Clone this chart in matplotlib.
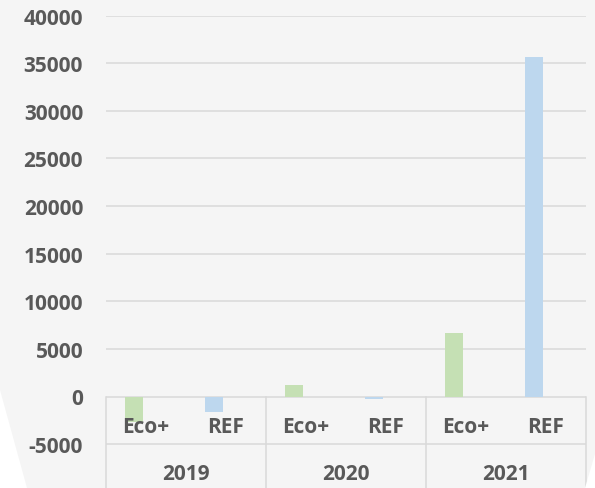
import matplotlib.pyplot as plt
from matplotlib.patches import Polygon

# --- Data ---
years = ["2019", "2020", "2021"]
scenarios = ["Eco+", "REF"]
values = [-2650, -1600, 1240, -220, 6670, 35660]
bar_colors = {"Eco+": "#c5e0b4", "REF": "#bdd7ee"}
y_ticks = [-5000, 0, 5000, 10000, 15000, 20000, 25000, 30000, 35000, 40000]

text_color = "#595959"
line_color = "#d9d9d9"
font = "Open Sans"
fsize = 15

fig = plt.figure(figsize=(5.95, 4.89), dpi=100)
fig.patch.set_facecolor("#f5f5f5")

# white wedges in the bottom corners of the background
fig.patches.append(Polygon([(0, 0), (0, 98 / 489), (27 / 595, 0)], closed=True,
                           transform=fig.transFigure, facecolor="white",
                           edgecolor="none", zorder=0))
fig.patches.append(Polygon([(1, 0), (1, 34 / 489), (585 / 595, 0)], closed=True,
                           transform=fig.transFigure, facecolor="white",
                           edgecolor="none", zorder=0))

# axes: top at 40000 (y=16.7px), bottom at figure edge
ax = fig.add_axes([106 / 595, 0, 480 / 595, (489 - 16.7) / 489])
ax.set_facecolor("none")

ymax = 40000
px_per_unit = 47.6 / 5000
ymin = -(489 - 397.5) / px_per_unit
ax.set_ylim(ymin, ymax)

labels = [s for _ in years for s in scenarios]
ax.set_xlim(-0.5, len(labels) - 0.5)

for i, (lab, val) in enumerate(zip(labels, values)):
    ax.bar(i - 0.15, val, width=0.225, color=bar_colors[lab], zorder=3)

# gridlines
for t in y_ticks:
    ax.axhline(t, color=line_color, linewidth=1.1, zorder=1)

# category table lines
for b in [-0.5, 1.5, 3.5, 5.5]:
    ax.plot([b, b], [ymin, 0], color=line_color, linewidth=1.1, zorder=2,
            clip_on=False)

ax.set_yticks(y_ticks)
ax.set_yticklabels([str(t) for t in y_ticks], fontsize=fsize, fontweight="bold",
                   color=text_color, family=font)
ax.tick_params(axis="y", length=0, pad=16.5)
ax.set_xticks([])
for s in ax.spines.values():
    s.set_visible(False)

# category labels
lab_y = -(428 - 397.5) / px_per_unit
year_y = -(475 - 397.5) / px_per_unit
for i, lab in enumerate(labels):
    ax.text(i, lab_y, lab, ha="center", va="center", fontsize=fsize,
            fontweight="bold", color=text_color, family=font)
for j, yr in enumerate(years):
    ax.text(2 * j + 0.5, year_y, yr, ha="center", va="center", fontsize=fsize,
            fontweight="bold", color=text_color, family=font)

fig.savefig("out.png", dpi=100, facecolor=fig.get_facecolor())
